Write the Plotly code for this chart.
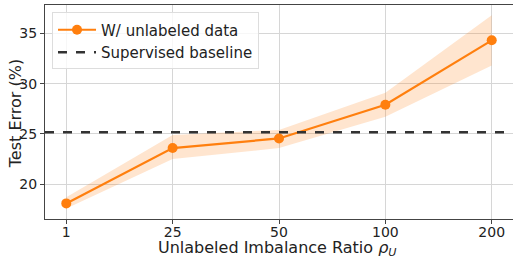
import plotly.graph_objects as go

ratios = ["1", "25", "50", "100", "200"]
err_mean = [18.1, 23.6, 24.55, 27.9, 34.3]
err_low = [17.6, 22.5, 23.6, 26.7, 31.8]
err_high = [18.7, 24.9, 25.4, 29.1, 36.8]
baseline = 25.17

xpos = list(range(len(ratios)))
x_range = [-0.2, len(ratios) - 1 + 0.2]
y_range = [16.55, 37.81]
orange = "#ff7f0e"

fig = go.Figure()
fig.add_trace(go.Scatter(x=xpos, y=err_low, mode="lines", line=dict(width=0),
                         showlegend=False, hoverinfo="skip"))
fig.add_trace(go.Scatter(x=xpos, y=err_high, mode="lines", line=dict(width=0),
                         fill="tonexty", fillcolor="rgba(255,127,14,0.2)",
                         showlegend=False, hoverinfo="skip"))
fig.add_trace(go.Scatter(x=xpos, y=err_mean, mode="lines+markers", name="W/ unlabeled data",
                         line=dict(color=orange, width=2.2),
                         marker=dict(color=orange, size=10)))
fig.add_trace(go.Scatter(x=x_range, y=[baseline, baseline], mode="lines",
                         name="Supervised baseline",
                         line=dict(color="#333333", width=2.4, dash="dash")))

font = "DejaVu Sans"
fig.update_layout(
    width=513, height=257,
    margin=dict(l=45, r=0, t=5, b=38),
    plot_bgcolor="white", paper_bgcolor="white",
    font=dict(family=font, color="#222", size=13),
    showlegend=True,
    legend=dict(x=0.015, y=0.965, xanchor="left", yanchor="top", traceorder="normal",
                bgcolor="rgba(255,255,255,0.8)", bordercolor="#dddddd", borderwidth=1,
                font=dict(size=15, family=font), tracegroupgap=0, itemwidth=38),
    xaxis=dict(range=x_range, tickvals=xpos, ticktext=ratios, showgrid=True,
               gridcolor="#d6d6d6", gridwidth=1, zeroline=False, automargin=False,
               showline=True, linecolor="#444", linewidth=1.2, mirror=True,
               ticks="outside", ticklen=4, tickcolor="#444", ticklabelstandoff=-4,
               tickfont=dict(size=14)),
    yaxis=dict(range=y_range, tickvals=[20, 25, 30, 35], showgrid=True,
               gridcolor="#d6d6d6", gridwidth=1, zeroline=False, automargin=False,
               showline=True, linecolor="#444", linewidth=1.2, mirror=True,
               ticks="outside", ticklen=4, tickcolor="#444",
               tickfont=dict(size=14)),
    annotations=[
        dict(text="Unlabeled Imbalance Ratio <i>ρ</i><sub><i>U</i></sub>",
             xref="paper", yref="paper", x=0.497, y=-0.138, xanchor="center", yanchor="middle",
             showarrow=False, font=dict(size=16, family=font)),
        dict(text="Test Error (%)", textangle=-90,
             xref="paper", yref="paper", x=-0.064, y=0.49, xanchor="center", yanchor="middle",
             showarrow=False, font=dict(size=16, family=font)),
    ],
)

fig.write_html("out.html", config={"displayModeBar": False},
               post_script="document.body.style.margin='0';document.body.style.overflow='hidden';")
